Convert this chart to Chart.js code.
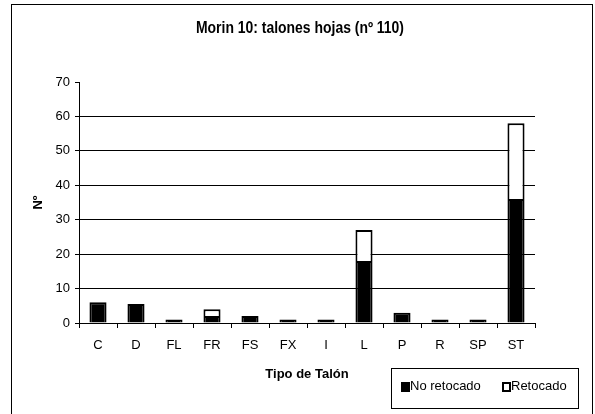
<!DOCTYPE html>
<html>
<head>
<meta charset="utf-8">
<script src="https://cdn.jsdelivr.net/npm/chart.js@4.4.0/dist/chart.umd.min.js"></script>
<style>
html,body{margin:0;padding:0;background:#fff;}
#wrap{width:595px;height:414px;position:relative;}
</style>
</head>
<body>
<div id="wrap"><canvas id="c" width="595" height="414"></canvas></div>
<script>
const categories = ["C","D","FL","FR","FS","FX","I","L","P","R","SP","ST"];
const noRetocado = [6,5.5,1,2,2,1,1,18,3,1,1,36];
const retocado   = [0,0,0,2,0,0,0,9,0,0,0,22];
const yTicks = [0,10,20,30,40,50,60,70];
const chartTitle = "Morin 10: talones hojas (nº 110)";
const xTitle = "Tipo de Talón";
const yTitle = "Nº";
const seriesNames = ["No retocado","Retocado"];

const FONT = "'Liberation Sans', Arial, sans-serif";

const frame = {
  id:'frame',
  beforeDraw(chart){
    const c = chart.ctx;
    c.save();
    c.fillStyle='#fff';
    c.fillRect(0,0,chart.width,chart.height);
    c.strokeStyle='#000';
    c.lineWidth=1;
    c.strokeRect(11.5,4.5,581,430);
    c.font = "bold 16px " + FONT;
    c.fillStyle='#000';
    c.textAlign='center';
    c.textBaseline='middle';
    c.fillText(chartTitle, 300, 29, 208);
    c.restore();
  }
};

const legendBox = {
  id:'legendBox',
  afterDraw(chart){
    const c = chart.ctx;
    c.save();
    c.strokeStyle='#000';
    c.lineWidth=1;
    c.strokeRect(391.5,368.5,187,40);
    c.font = "13px " + FONT;
    c.textBaseline='middle';
    c.fillStyle='#000';
    const ds = chart.data.datasets;
    const items = [{x:401},{x:502}];
    ds.forEach((d,i)=>{
      const x = items[i].x;
      c.fillStyle = '#000';
      c.fillRect(x,382,9,10);
      if(d.backgroundColor !== '#000000'){
        c.fillStyle = d.backgroundColor;
        c.fillRect(x+2,384,5,6);
      }
      c.fillStyle='#000';
      c.fillText(d.label, x+9, 386);
    });
    c.restore();
  }
};

new Chart(document.getElementById('c'), {
  type:'bar',
  data:{
    labels: categories,
    datasets:[
      {label:seriesNames[0], data:noRetocado, backgroundColor:'#000000', borderColor:'#000000', borderWidth:2, barPercentage:0.45, categoryPercentage:1},
      {label:seriesNames[1], data:retocado, backgroundColor:'#ffffff', borderColor:'#000000', borderWidth:2, barPercentage:0.45, categoryPercentage:1}
    ]
  },
  options:{
    responsive:false,
    animation:false,
    devicePixelRatio:1,
    layout:{padding:{left:0,right:60,top:82,bottom:0}},
    plugins:{
      legend:{display:false},
      tooltip:{enabled:false},
      title:{display:false}
    },
    scales:{
      x:{
        stacked:true,
        grid:{display:true,drawOnChartArea:false,offset:true,tickLength:5,color:'#000'},
        border:{display:true,color:'#000',width:1},
        ticks:{color:'#000',font:{family:FONT,size:13},padding:10,maxRotation:0},
        title:{display:true,text:xTitle,color:'#000',font:{family:FONT,size:13,weight:'bold'},padding:{top:4,bottom:32}},
        afterFit(s){ s.height = 91; }
      },
      y:{
        stacked:true,
        min:0,max:70,
        afterBuildTicks(s){ s.ticks = yTicks.map(v=>({value:v})); },
        grid:{color:(ctx)=> (ctx.tick && ctx.tick.value===70) ? 'rgba(0,0,0,0)' : '#000', tickColor:'#000', tickLength:4, lineWidth:1},
        border:{display:true,color:'#000',width:1},
        ticks:{color:'#000',font:{family:FONT,size:13},padding:5},
        title:{display:true,text:yTitle,color:'#000',font:{family:FONT,size:13,weight:'bold'},padding:{top:31,bottom:4}},
        afterFit(s){ s.width = 79; }
      }
    }
  },
  plugins:[frame, legendBox]
});
</script>
</body>
</html>
